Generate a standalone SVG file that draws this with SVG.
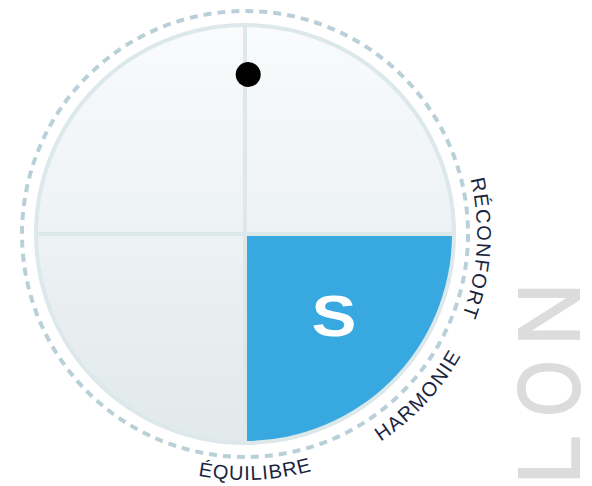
<svg xmlns="http://www.w3.org/2000/svg" width="592" height="486" viewBox="0 0 592 486">
<style>
.ring{fill:url(#bg);stroke:#dde8ea;stroke-width:4}
.div{stroke:#dde8ea;stroke-width:4;fill:none}
.dash{fill:none;stroke:#b9d0d8;stroke-width:4;stroke-dasharray:8 6.01}
.lbl{font-family:"Liberation Sans",Arial,sans-serif;font-size:20px;fill:#1b2540;letter-spacing:1.5px}
.big{font-family:"Liberation Sans",Arial,sans-serif;font-size:88px;fill:#dcdcdc;stroke:#dcdcdc;stroke-width:2}
</style>
<defs>
<linearGradient id="bg" x1="0" y1="0" x2="0" y2="1">
<stop offset="0" stop-color="#f9fbfc"/>
<stop offset="1" stop-color="#e1e9eb"/>
</linearGradient>
<path id="pRec" d="M419.0,80.6 A232,232 0 0 1 398.4,408.0"/>
<path id="pHar" d="M275.2,480.1 A248,248 0 0 0 492.7,247.0"/>
<path id="pEqu" d="M95.2,429.2 A246,246 0 0 0 411.2,415.4"/>
</defs>
<g id="lon">
<g transform="translate(579,486) rotate(-90)">
<text class="big" x="1.5" y="0">L</text>
<text class="big" x="-4.2" y="0" transform="translate(73,0) scale(0.82,1)">O</text>
<text class="big" x="140" y="0">N</text>
</g>
</g>
<g id="dial">
<circle class="dash" cx="245" cy="234" r="223"/>
<circle class="ring" cx="245" cy="234" r="209"/>
<line class="div" x1="245" y1="25" x2="245" y2="443"/>
<line class="div" x1="36" y1="234" x2="454" y2="234"/>
</g>
<g id="quadrant-s">
<path d="M247,236 H452 A207,207 0 0 1 247,441 Z" fill="#38a8e0"/>
<g transform="translate(334,336) scale(1.18,1)">
<text x="0" y="0" text-anchor="middle" font-family="Liberation Sans,Arial,sans-serif" font-weight="bold" font-size="57" fill="#ffffff">S</text>
</g>
</g>
<g id="marker">
<circle cx="248.2" cy="74.5" r="12.5" fill="#000000"/>
</g>
<g id="labels">
<text class="lbl"><textPath href="#pRec" startOffset="50%" text-anchor="middle">RÉCONFORT</textPath></text>
<text class="lbl"><textPath href="#pHar" startOffset="50%" text-anchor="middle">HARMONIE</textPath></text>
<text class="lbl" style="letter-spacing:1px"><textPath href="#pEqu" startOffset="50%" text-anchor="middle">ÉQUILIBRE</textPath></text>
</g>
</svg>
